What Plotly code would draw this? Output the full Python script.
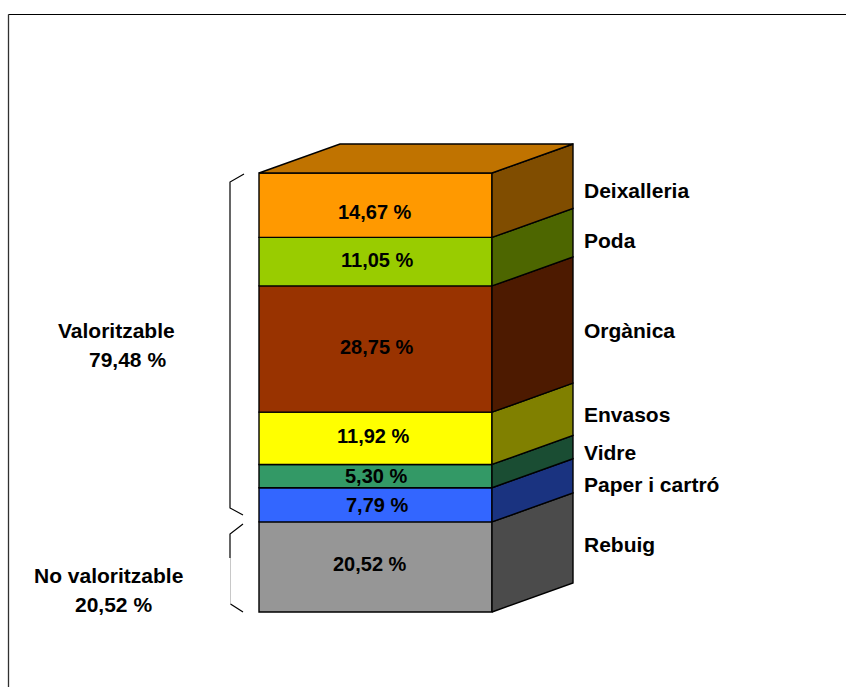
import plotly.graph_objects as go
import numpy as np

categories = ["Rebuig", "Paper i cartró", "Vidre", "Envasos", "Orgànica", "Poda", "Deixalleria"]
values = [20.52, 7.79, 5.30, 11.92, 28.75, 11.05, 14.67]
value_labels = ["20,52 %", "7,79 %", "5,30 %", "11,92 %", "28,75 %", "11,05 %", "14,67 %"]
front_colors = ["#969696", "#3366FF", "#339966", "#FFFF00", "#993300", "#99CC00", "#FF9900"]
side_colors = ["#4B4B4B", "#1A3380", "#1A4D33", "#808000", "#4D1A00", "#4D6600", "#804D00"]
top_color = "#C07300"
group_labels = ["Valoritzable", "79,48 %", "No valoritzable", "20,52 %"]

W, H = 846, 687
Y0_PX, PX_PER_UNIT = 612.0, 4.39
LEFT, RIGHT = 259.0, 492.0
DX, DY_PX = 81.0, 29.0
DY = DY_PX / PX_PER_UNIT


def v(px):
    return (Y0_PX - px) / PX_PER_UNIT


fig = go.Figure()
bottoms = np.concatenate([[0], np.cumsum(values)[:-1]])
tops = np.cumsum(values)
EDGE = dict(color="#000000", width=1.4)

for name, val, base, col in zip(categories, values, bottoms, front_colors):
    fig.add_trace(go.Bar(x=[(LEFT + RIGHT) / 2], y=[val], base=[base], width=[RIGHT - LEFT],
                         name=name, marker=dict(color=col, line=EDGE), showlegend=False))

for name, lo, hi, col in zip(categories, bottoms, tops, side_colors):
    fig.add_trace(go.Scatter(
        x=[RIGHT, RIGHT + DX, RIGHT + DX, RIGHT, RIGHT],
        y=[lo, lo + DY, hi + DY, hi, lo],
        mode="lines", fill="toself", fillcolor=col, line=EDGE, showlegend=False, name=name))

fig.add_trace(go.Scatter(
    x=[LEFT, LEFT + DX, RIGHT + DX, RIGHT, LEFT],
    y=[tops[-1], tops[-1] + DY, tops[-1] + DY, tops[-1], tops[-1]],
    mode="lines", fill="toself", fillcolor=top_color, line=EDGE, showlegend=False))

# frame (left and top only)
frame = dict(color="#000000", width=1)
fig.add_shape(type="line", xref="x", yref="y", x0=8.5, x1=8.5, y0=v(687), y1=v(14.5), line=dict(color="#303030", width=1.3))
fig.add_shape(type="line", xref="x", yref="y", x0=8.5, x1=846, y0=v(14.5), y1=v(14.5), line=frame)

# braces
black = dict(color="#000000", width=1.2)
fig.add_trace(go.Scatter(x=[244, 230, 230, 243], y=[v(174), v(182), v(508), v(515)],
                         mode="lines", line=black, showlegend=False))
fig.add_trace(go.Scatter(x=[243, 230, 230], y=[v(524), v(534), v(558)],
                         mode="lines", line=black, showlegend=False))
fig.add_trace(go.Scatter(x=[230.5, 230.5], y=[v(558), v(604)],
                         mode="lines", line=dict(color="#C8C8C8", width=1), showlegend=False))
fig.add_trace(go.Scatter(x=[230.5, 243], y=[v(604), v(612)],
                         mode="lines", line=black, showlegend=False))

FAMILY = "Liberation Sans, Arial, sans-serif"
VALUE_FONT = dict(family=FAMILY, size=20, color="#000000")
LABEL_FONT = dict(family=FAMILY, size=21, color="#000000")
value_label_px = [564, 505, 476, 436, 347, 260, 212]
value_label_cx = [370, 377, 376, 373, 377, 377, 375]
for text, py, cx in zip(value_labels, value_label_px, value_label_cx):
    fig.add_annotation(x=cx, y=v(py), text=f"<b>{text}</b>", showarrow=False, xanchor="center",
                       yanchor="middle", font=VALUE_FONT, xref="x", yref="y")

cat_label_px = [544, 484, 452, 414, 330, 240, 190]
for text, py in zip(categories, cat_label_px):
    fig.add_annotation(x=582, y=v(py), text=f"<b>{text}</b>", showarrow=False, xanchor="left",
                       yanchor="middle", font=LABEL_FONT, xref="x", yref="y")

for text, (cx, py) in zip(group_labels, [(116, 330), (127.5, 359), (108.5, 575), (113.5, 604)]):
    fig.add_annotation(x=cx, y=v(py), text=f"<b>{text}</b>", showarrow=False, xanchor="center",
                       yanchor="middle", font=LABEL_FONT, xref="x", yref="y")

fig.update_layout(
    width=W, height=H, margin=dict(l=0, r=0, t=0, b=0), autosize=False,
    barmode="overlay", paper_bgcolor="#FFFFFF", plot_bgcolor="#FFFFFF", showlegend=False,
    xaxis=dict(range=[0, W], visible=False, fixedrange=True),
    yaxis=dict(range=[v(H), v(0)], visible=False, fixedrange=True),
)
fig.write_html("out.html", post_script="document.body.style.margin='0';", config={"displayModeBar": False})
